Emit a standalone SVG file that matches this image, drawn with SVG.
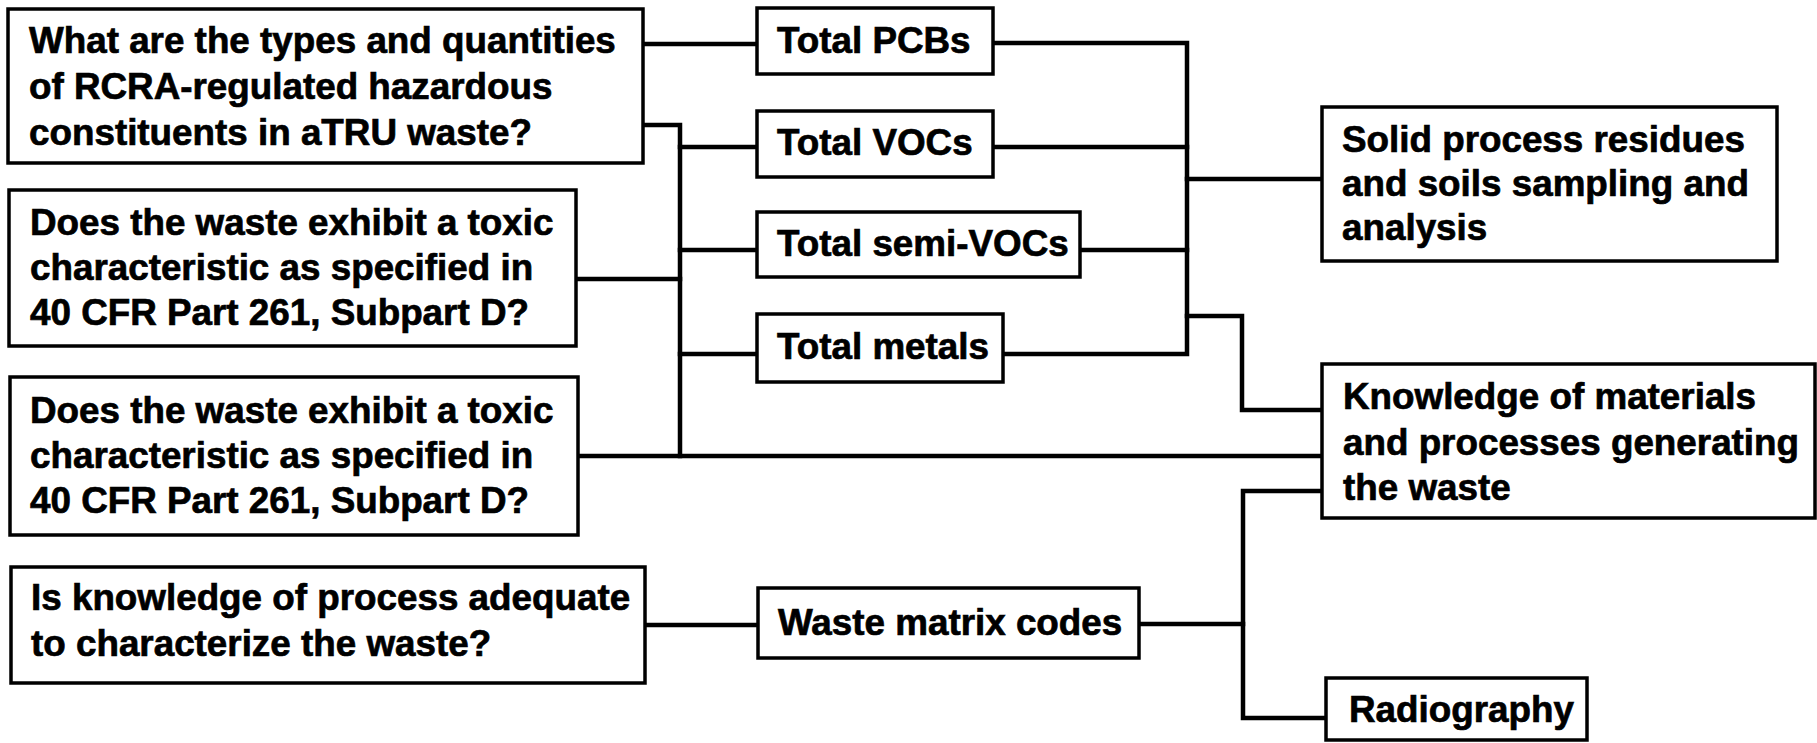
<svg xmlns="http://www.w3.org/2000/svg" width="1817" height="743" viewBox="0 0 1817 743">
  <style>
    .box { fill: #ffffff; stroke: #000000; stroke-width: 3.5; }
    .lbl { font-family: "Liberation Sans", Arial, Helvetica, sans-serif; font-weight: bold; font-size: 36.8px; fill: #000000; stroke: #000000; stroke-width: 0.7; }
    .wire { fill: none; stroke: #000000; stroke-width: 4.5; stroke-linejoin: miter; stroke-linecap: square; }
  </style>
  <rect x="0" y="0" width="1817" height="743" fill="#ffffff"/>

  <!-- connectors -->
  <g id="connectors" class="wire">
    <path d="M643 44 H757"/>
    <path d="M643 125 H680 V456"/>
    <path d="M680 147 H757"/>
    <path d="M680 250 H757"/>
    <path d="M680 354 H757"/>
    <path d="M576 279 H680"/>
    <path d="M578 456 H1322"/>
    <path d="M993 43 H1187 V354 H1003"/>
    <path d="M993 147 H1187"/>
    <path d="M1080 250 H1187"/>
    <path d="M1187 179 H1322"/>
    <path d="M1187 316 H1242 V410 H1322"/>
    <path d="M645 625 H758"/>
    <path d="M1139 624 H1243"/>
    <path d="M1322 491 H1243 V718 H1326"/>
  </g>

  <!-- question boxes -->
  <g id="q-constituents">
    <rect class="box" x="8" y="9" width="635" height="154"/>
    <text class="lbl" x="29" y="53">What are the types and quantities</text>
    <text class="lbl" x="29" y="99">of RCRA-regulated hazardous</text>
    <text class="lbl" x="29" y="145">constituents in aTRU waste?</text>
  </g>
  <g id="q-toxic-1">
    <rect class="box" x="9" y="190" width="567" height="156"/>
    <text class="lbl" x="30" y="235">Does the waste exhibit a toxic</text>
    <text class="lbl" x="30" y="280">characteristic as specified in</text>
    <text class="lbl" x="30" y="325">40 CFR Part 261, Subpart D?</text>
  </g>
  <g id="q-toxic-2">
    <rect class="box" x="10" y="377" width="568" height="158"/>
    <text class="lbl" x="30" y="423">Does the waste exhibit a toxic</text>
    <text class="lbl" x="30" y="468">characteristic as specified in</text>
    <text class="lbl" x="30" y="513">40 CFR Part 261, Subpart D?</text>
  </g>
  <g id="q-process">
    <rect class="box" x="11" y="567" width="634" height="116"/>
    <text class="lbl" x="31" y="610">Is knowledge of process adequate</text>
    <text class="lbl" x="31" y="656">to characterize the waste?</text>
  </g>

  <!-- analytes -->
  <g id="pcbs">
    <rect class="box" x="757" y="8" width="236" height="66"/>
    <text class="lbl" x="777" y="53">Total PCBs</text>
  </g>
  <g id="vocs">
    <rect class="box" x="757" y="111" width="236" height="66"/>
    <text class="lbl" x="777" y="155">Total VOCs</text>
  </g>
  <g id="semi-vocs">
    <rect class="box" x="757" y="212" width="323" height="65"/>
    <text class="lbl" x="777" y="256">Total semi-VOCs</text>
  </g>
  <g id="metals">
    <rect class="box" x="757" y="314" width="246" height="68"/>
    <text class="lbl" x="777" y="359">Total metals</text>
  </g>
  <g id="matrix-codes">
    <rect class="box" x="758" y="588" width="381" height="70"/>
    <text class="lbl" x="778" y="635">Waste matrix codes</text>
  </g>

  <!-- methods -->
  <g id="solids-sampling">
    <rect class="box" x="1322" y="107" width="455" height="154"/>
    <text class="lbl" x="1342" y="152">Solid process residues</text>
    <text class="lbl" x="1342" y="196">and soils sampling and</text>
    <text class="lbl" x="1342" y="240">analysis</text>
  </g>
  <g id="process-knowledge">
    <rect class="box" x="1322" y="364" width="493" height="154"/>
    <text class="lbl" x="1343" y="409">Knowledge of materials</text>
    <text class="lbl" x="1343" y="455">and processes generating</text>
    <text class="lbl" x="1343" y="500">the waste</text>
  </g>
  <g id="radiography">
    <rect class="box" x="1326" y="678" width="261" height="62"/>
    <text class="lbl" x="1349" y="722">Radiography</text>
  </g>
</svg>
